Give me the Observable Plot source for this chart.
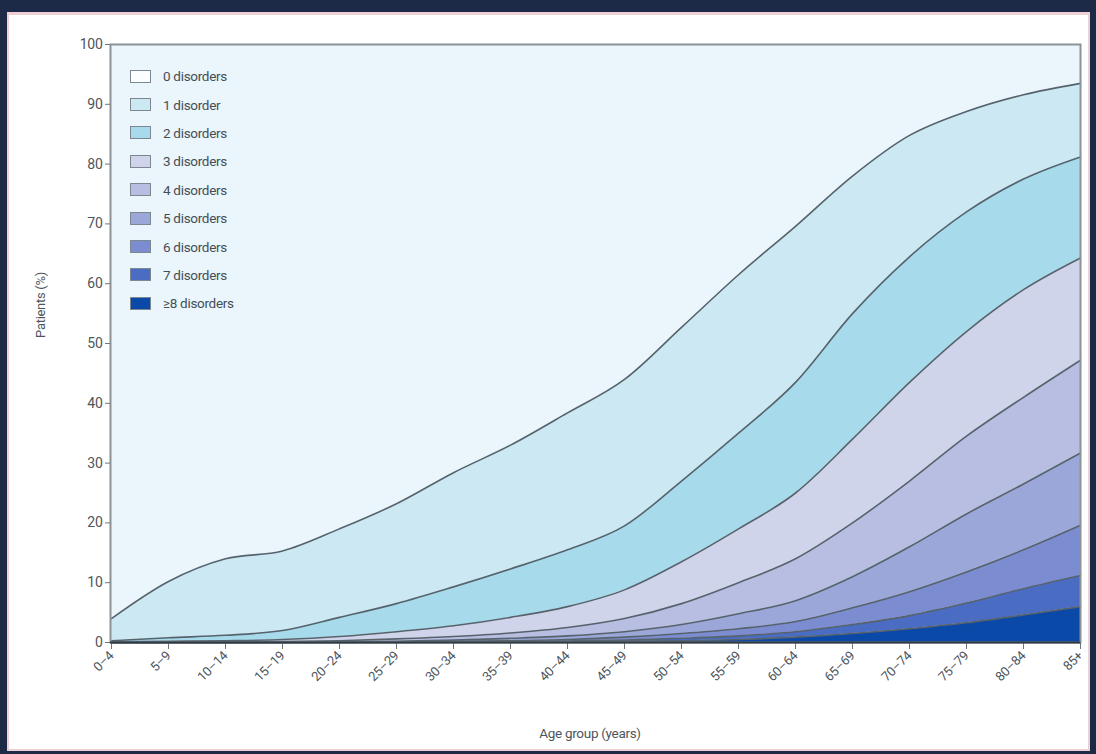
<!DOCTYPE html>
<html>
<head>
<meta charset="utf-8">
<script src="https://cdn.jsdelivr.net/npm/d3@7"></script>
<script src="https://cdn.jsdelivr.net/npm/@observablehq/plot@0.6"></script>
<style>
  html, body { margin: 0; padding: 0; }
  body { width: 1096px; height: 754px; background: #1c2a47; position: relative; overflow: hidden;
         font-family: "Liberation Sans Narrow", "Roboto", "Liberation Sans", sans-serif; }
  #panel { position: absolute; left: 7px; top: 12px; width: 1083px; height: 739px; background: #fff;
           border: 2px solid #ecd0d4; border-top-width: 3px; box-sizing: border-box; }
  #chart { position: absolute; left: 0; top: 0; }
  #legend { position: absolute; left: 130px; top: 62px; font-size: 13.5px; color: #464e56; letter-spacing: -0.3px; }
  .row { display: flex; align-items: center; height: 28.4px; }
  .sw { width: 19px; height: 11px; border: 1.5px solid #7d8790; margin-right: 12px; box-sizing: content-box; }
  #ylabel { position: absolute; left: 40px; top: 305px; transform: translate(-50%, -50%) rotate(-90deg);
            font-size: 13px; color: #4d555c; white-space: nowrap; letter-spacing: -0.3px; }
  #xlabel { position: absolute; left: 590px; top: 733px; transform: translate(-50%, -50%);
            font-size: 13.5px; color: #4d555c; white-space: nowrap; letter-spacing: -0.3px; }
</style>
</head>
<body>
<div id="panel"></div>
<div id="chart"></div>
<div id="ylabel">Patients (%)</div>
<div id="xlabel">Age group (years)</div>
<div id="legend"></div>
<script>
// Age groups (x categories)
const ages = ["0–4","5–9","10–14","15–19","20–24","25–29","30–34","35–39","40–44","45–49",
              "50–54","55–59","60–64","65–69","70–74","75–79","80–84","85+"];

// Cumulative share of patients (%) with at least k disorders
const atLeast1 = [4.0, 10.2, 14.0, 15.3, 19.0, 23.2, 28.4, 33.0, 38.4, 44.0, 52.7, 61.5, 69.6, 78.0, 84.8, 88.8, 91.6, 93.5];
const atLeast2 = [0.3, 0.8, 1.2, 2.0, 4.2, 6.5, 9.3, 12.3, 15.5, 19.5, 27.0, 35.0, 43.5, 55.0, 64.5, 72.0, 77.5, 81.2];
const atLeast3 = [0.1, 0.2, 0.3, 0.5, 1.0, 1.8, 2.8, 4.2, 6.0, 8.8, 13.5, 19.0, 25.0, 34.0, 43.5, 52.0, 59.0, 64.3];
const atLeast4 = [0, 0.05, 0.1, 0.15, 0.3, 0.6, 1.0, 1.6, 2.5, 4.0, 6.5, 10.0, 14.0, 20.0, 27.0, 34.5, 41.0, 47.2];
const atLeast5 = [0, 0, 0, 0.05, 0.1, 0.2, 0.4, 0.7, 1.1, 1.8, 3.0, 4.8, 7.0, 11.0, 16.0, 21.5, 26.5, 31.7];
const atLeast6 = [0, 0, 0, 0, 0.05, 0.1, 0.2, 0.3, 0.5, 0.9, 1.5, 2.3, 3.5, 5.8, 8.5, 11.8, 15.5, 19.6];
const atLeast7 = [0, 0, 0, 0, 0, 0.05, 0.1, 0.15, 0.25, 0.4, 0.7, 1.1, 1.8, 3.0, 4.5, 6.6, 9.0, 11.2];
const atLeast8 = [0, 0, 0, 0, 0, 0, 0.05, 0.1, 0.1, 0.2, 0.3, 0.5, 0.9, 1.5, 2.3, 3.3, 4.6, 6.0];

// Band labels and colours
const bandLabels = ["0 disorders","1 disorder","2 disorders","3 disorders","4 disorders",
                    "5 disorders","6 disorders","7 disorders","≥8 disorders"];
const bandColors = ["#eaf6fb","#cbe8f3","#a7dbec","#cfd4ea","#b8bee1","#9ba7d9","#7c8cd0","#4a6cc3","#0b49a8"];
const yTicks = [0,10,20,30,40,50,60,70,80,90,100];

const top100 = ages.map(() => 100);
const bottom0 = ages.map(() => 0);
const cum = [top100, atLeast1, atLeast2, atLeast3, atLeast4, atLeast5, atLeast6, atLeast7, atLeast8, bottom0];

const bands = [];
for (let k = 8; k >= 0; k--) {
  ages.forEach((a, i) => bands.push({age: a, band: bandLabels[k], hi: cum[k][i], lo: cum[k + 1][i]}));
}
const lines = [];
for (let k = 1; k <= 8; k++) {
  ages.forEach((a, i) => lines.push({age: a, k, v: cum[k][i]}));
}

const chart = Plot.plot({
  width: 1096,
  height: 754,
  marginLeft: 110,
  marginRight: 16,
  marginTop: 44,
  marginBottom: 112,
  style: {background: "transparent", fontFamily: "'Liberation Sans Narrow', Roboto, sans-serif", color: "#4d555c", letterSpacing: "-0.3px"},
  x: {type: "point", domain: ages, padding: 0, label: null},
  y: {domain: [0, 100], label: null},
  color: {domain: bandLabels, range: bandColors},
  marks: [
    Plot.areaY(bands, {x: "age", y1: "lo", y2: "hi", fill: "band", curve: "monotone-x"}),
    Plot.lineY(lines, {x: "age", y: "v", z: "k", stroke: "#56636c", strokeWidth: 1.6, curve: "monotone-x"}),
    Plot.frame({stroke: "#8b9298", strokeWidth: 2}),
    Plot.axisY({ticks: yTicks, tickSize: 5, tickPadding: 3, fontSize: 14, stroke: "#6d767d", label: null}),
    Plot.axisX({tickSize: 7, tickPadding: 4, tickRotate: -45, fontSize: 13, stroke: "#6d767d", label: null}),
    Plot.ruleY([0], {stroke: "#2f3a44", strokeWidth: 2})
  ]
});
document.getElementById("chart").appendChild(chart);

const legend = document.getElementById("legend");
bandLabels.forEach((lab, i) => {
  const row = document.createElement("div");
  row.className = "row";
  const sw = document.createElement("div");
  sw.className = "sw";
  sw.style.background = i === 0 ? "#fbfdfe" : bandColors[i];
  const t = document.createElement("span");
  t.textContent = lab;
  row.appendChild(sw);
  row.appendChild(t);
  legend.appendChild(row);
});
</script>
</body>
</html>
